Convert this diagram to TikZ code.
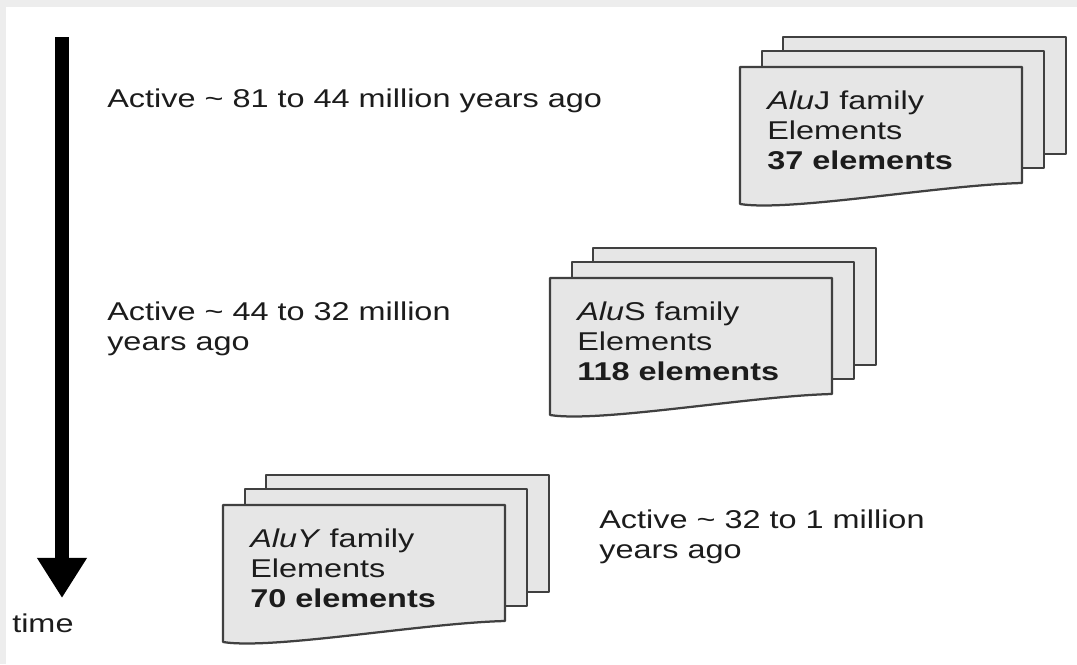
\documentclass[tikz,border=0pt]{standalone}
\usepackage{fontspec}
\setmainfont{Liberation Sans}
\newfontfamily\notefont[FakeStretch=1.26]{Liberation Sans}
\usetikzlibrary{positioning,arrows.meta}

\definecolor{sheetgray}{HTML}{E6E6E6}
\definecolor{edgegray}{HTML}{404040}
\definecolor{inkgray}{HTML}{1C1C1C}
\definecolor{framegray}{HTML}{EDEDED}

\tikzset{
  sheet/.style={draw=edgegray, fill=sheetgray, line width=1.6pt, line join=round},
  note/.style={anchor=base west, align=left, inner sep=0pt, text=inkgray,
    font=\notefont\fontsize{18.3}{21.3}\selectfont},
  timeaxis/.style={line width=9.5pt, black, -{Triangle[length=28.5pt, width=33.5pt]}}
}

\begin{document}
\begin{tikzpicture}[x=0.025cm, y=-0.025cm]
	\useasboundingbox (0,0) rectangle (1077,664);
	% light frame at the top and left
	\fill[framegray] (0,0) rectangle (1077,7);
	\fill[framegray] (0,0) rectangle (6,664);
	
	% time axis
	\coordinate (tstart) at (62,37);
	\coordinate (tend) at (62,598);
	\draw[timeaxis] (tstart) -- (tend);
	\node[note] (time) at (12,632) {time};
	
	% periods of activity (anchored on the last line)
	\node[note] (actJ) at (107,107) {Active \textasciitilde{} 81 to 44 million years ago};
	\node[note] (actS) at (107,350) {Active \textasciitilde{} 44 to 32 million\\years ago};
	\node[note] (actY) at (599,558) {Active \textasciitilde{} 32 to 1 million\\years ago};
	
	% stacks of family elements
	\foreach \x/\y/\nm/\fname/\cnt in {740/67/famJ/\textit{Alu}J/37, 550/278/famS/\textit{Alu}S/118, 223/505/famY/\textit{AluY}/70} {
		\draw[sheet] (\x+43,\y-30) rectangle ++(283,117);
		\draw[sheet] (\x+22,\y-16) rectangle ++(282,117);
		\draw[sheet] (\x,\y) -- (\x+282,\y) -- (\x+282,\y+116)
			.. controls (\x+200,\y+118) and (\x+50,\y+145) .. (\x,\y+137) -- cycle;
		\node[note] (\nm) at (\x+27,\y+102) {\fname{} family\\Elements\\\textbf{\cnt{} elements}};
	}
	
\end{tikzpicture}
\end{document}
